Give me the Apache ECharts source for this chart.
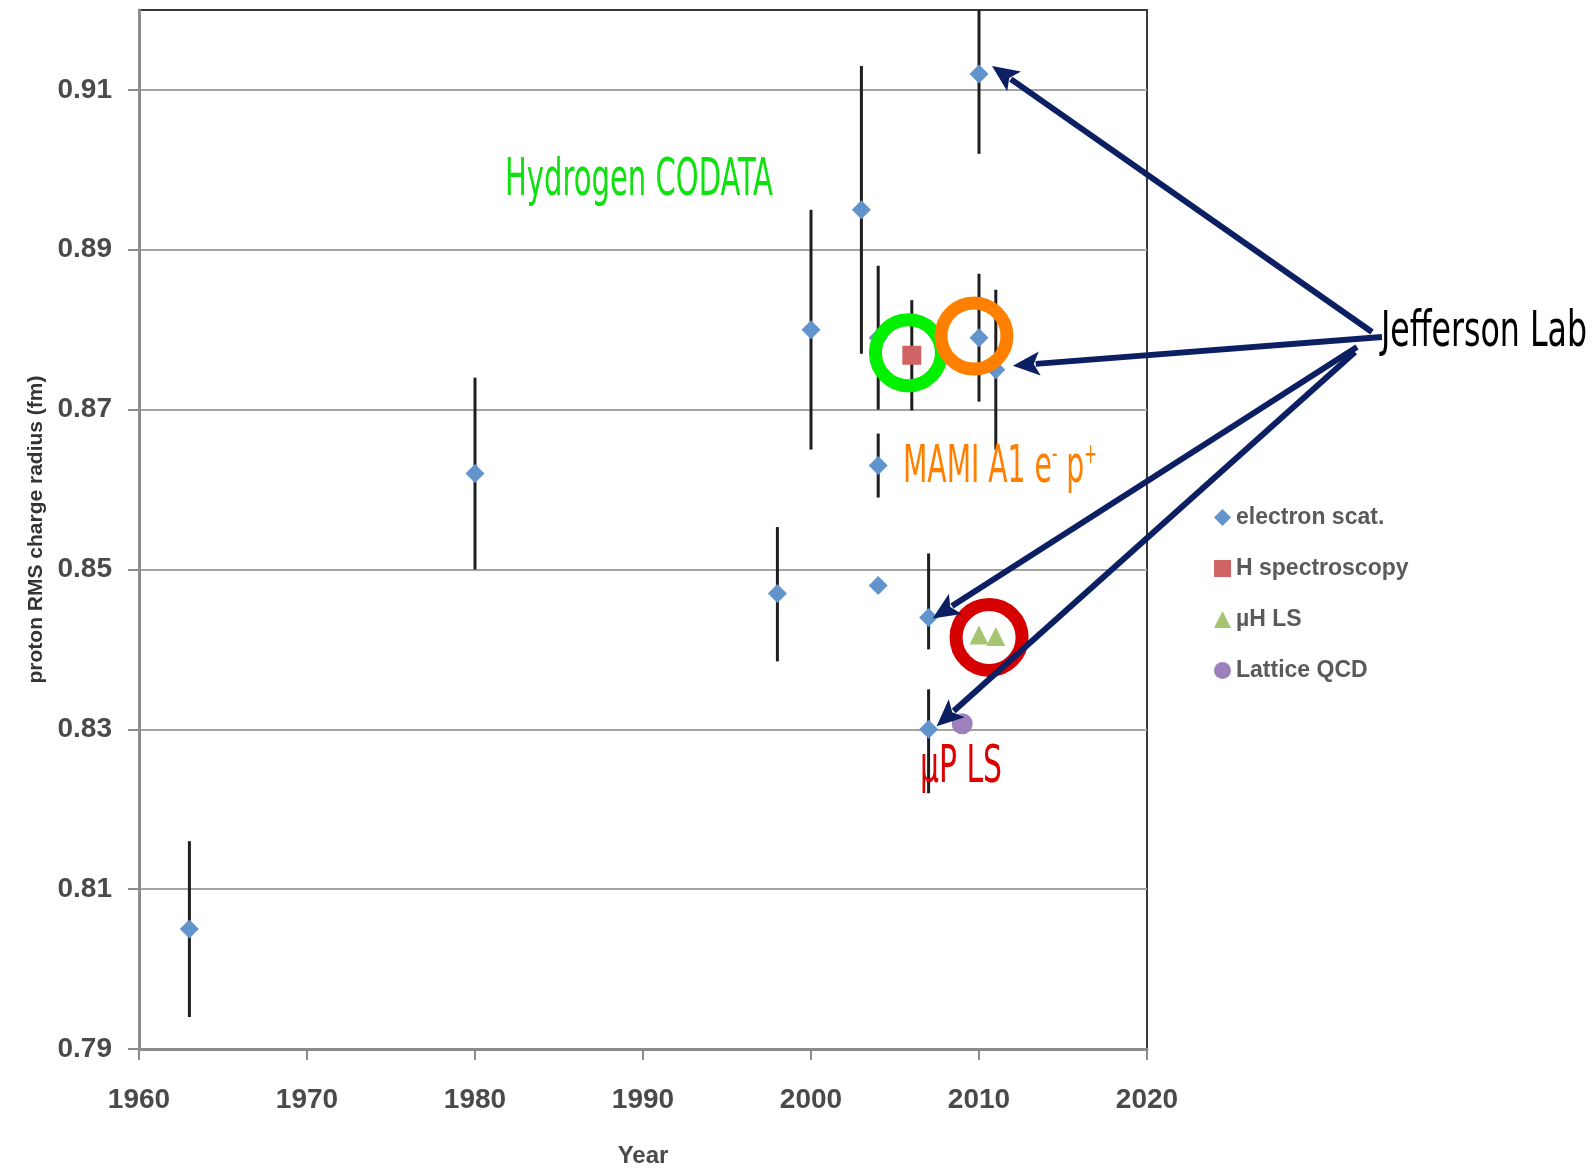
<!DOCTYPE html>
<html><head><meta charset="utf-8">
<script src="https://cdn.jsdelivr.net/npm/echarts@6/dist/echarts.min.js"></script>
<style>html,body{margin:0;padding:0;background:#fff;}#c{width:1595px;height:1170px;}</style>
</head><body><div id="c"></div>
<script>
// ---------- data ----------
const xTicks = [1960, 1970, 1980, 1990, 2000, 2010, 2020];
const yTicks = [0.79, 0.81, 0.83, 0.85, 0.87, 0.89, 0.91];

// electron scattering
const eYears  = [1963, 1980, 1998, 2000, 2003, 2004, 2004, 2004, 2007, 2007, 2010, 2010, 2011];
const eValues = [0.805, 0.862, 0.847, 0.880, 0.895, 0.879, 0.863, 0.848, 0.844, 0.830, 0.912, 0.879, 0.875];
const eLow    = [0.794, 0.850, 0.8385, 0.865, 0.877, 0.870, 0.859, null, 0.840, 0.822, 0.902, 0.871, 0.865];
const eHigh   = [0.816, 0.874, 0.8553, 0.895, 0.913, 0.888, 0.867, null, 0.852, 0.835, 0.922, 0.887, 0.885];

// H spectroscopy (CODATA)
const hYears  = [2006];
const hValues = [0.8768];
const hLow    = [0.8699];
const hHigh   = [0.8837];

// muonic hydrogen Lamb shift
const muYears  = [2010, 2011];
const muValues = [0.8418, 0.8416];

// Lattice QCD
const qYears  = [2009];
const qValues = [0.8307];

// highlight rings (annotation centres)
const ringCenters = [[2005.8, 0.8771], [2009.7, 0.8792], [2010.6, 0.8415]];
const ringColors  = ['#00f000', '#ff7f00', '#d60000'];

// Jefferson Lab arrows: target = electron-scattering index
const jlabIdx = [10, 12, 8, 9];

const FONT = "'Liberation Sans Narrow','DejaVu Sans Condensed','Liberation Sans',sans-serif";
const AX_FONT = "'Liberation Sans',Arial,sans-serif";

// ---------- build ----------
const zip = (a, b) => a.map((v, i) => [v, b[i]]);
const errData = [];
eYears.forEach((y, i) => { if (eLow[i] != null) errData.push([y, eLow[i], eHigh[i]]); });
hYears.forEach((y, i) => errData.push([y, hLow[i], hHigh[i]]));

const chart = echarts.init(document.getElementById('c'), null, {renderer: 'canvas'});

const axisGray = '#8c8c8c';
chart.setOption({
  animation: false,
  backgroundColor: '#fff',
  grid: {left: 139, right: 448, top: 10, bottom: 121, show: true, borderColor: '#3a3a3a', borderWidth: 2,
    containLabel: false, outerBoundsMode: 'none'},
  legend: {
    orient: 'vertical', left: 1209, top: 498, itemWidth: 17, itemHeight: 17, itemGap: 22,
    selectedMode: false,
    data: ['electron scat.', 'H spectroscopy', 'µH LS', 'Lattice QCD'],
    textStyle: {fontSize: 23, fontFamily: AX_FONT, fontWeight: 'bold', color: '#5a5a5a', lineHeight: 29}
  },
  xAxis: {
    type: 'value', min: 1960, max: 2020, interval: 10,
    axisLine: {show: true, onZero: false, lineStyle: {color: axisGray, width: 3}},
    axisTick: {show: true, length: 11, customValues: xTicks, lineStyle: {color: axisGray, width: 2}},
    axisLabel: {customValues: xTicks, margin: 37, color: '#4a4a4a', fontSize: 28, fontFamily: AX_FONT, fontWeight: 'bold',
      formatter: v => String(v)},
    splitLine: {show: false},
    name: 'Year', nameLocation: 'middle', nameGap: 95,
    nameTextStyle: {fontSize: 24, fontFamily: AX_FONT, fontWeight: 'bold', color: '#4a4a4a'}
  },
  yAxis: {
    type: 'value', min: 0.79, max: 0.92,
    axisLine: {show: true, onZero: false, lineStyle: {color: axisGray, width: 3}},
    axisTick: {show: true, length: 11, customValues: yTicks, lineStyle: {color: axisGray, width: 2}},
    axisLabel: {customValues: yTicks, margin: 27, color: '#4a4a4a', fontSize: 28, fontFamily: AX_FONT, fontWeight: 'bold',
      formatter: v => Number(v).toFixed(2)},
    splitLine: {show: true, lineStyle: {color: '#a4a4a4', width: 2}},
    name: 'proton RMS charge radius (fm)', nameLocation: 'middle', nameGap: 84, nameRotate: 90,
    nameTextStyle: {fontSize: 21, fontFamily: AX_FONT, fontWeight: 'bold', color: '#333'}
  },
  series: [
    {
      type: 'custom', name: 'err', silent: true, clip: true, z: 2,
      data: errData,
      encode: {x: 0, y: [1, 2]},
      renderItem: function (params, api) {
        const x = api.value(0);
        const p1 = api.coord([x, api.value(1)]);
        const p2 = api.coord([x, api.value(2)]);
        return {type: 'line', shape: {x1: p1[0], y1: p1[1], x2: p2[0], y2: p2[1]},
          style: {stroke: '#1e1e1e', lineWidth: 3}};
      }
    },
    {type: 'scatter', name: 'electron scat.', symbol: 'diamond', symbolSize: 19, z: 3,
      itemStyle: {color: '#6294cc', opacity: 1}, data: zip(eYears, eValues)},
    {type: 'scatter', name: 'H spectroscopy', symbol: 'rect', symbolSize: 19, z: 3,
      itemStyle: {color: '#d06464', opacity: 1}, data: zip(hYears, hValues)},
    {type: 'scatter', name: 'µH LS', symbol: 'triangle', symbolSize: 19, z: 3,
      itemStyle: {color: '#a5c572', opacity: 1}, data: zip(muYears, muValues)},
    {type: 'scatter', name: 'Lattice QCD', symbol: 'circle', symbolSize: 21, z: 3,
      itemStyle: {color: '#9c81bc', opacity: 1}, data: zip(qYears, qValues)},
    {type: 'scatter', name: 'rings', silent: true, symbol: 'circle', symbolSize: 66, z: 4,
      data: ringCenters.map((c, i) => ({value: c, itemStyle: {color: 'rgba(0,0,0,0)', borderColor: ringColors[i], borderWidth: 13, opacity: 1}}))}
  ]
});

// ---------- annotations ----------
function textWidth(style) {
  const t = new echarts.graphic.Text({style: style});
  return t.getBoundingRect().width;
}
function fitText(text, x0, x1, cy, fontSize, color, weight, rich) {
  const style = {text: text, fontSize: fontSize, fontFamily: FONT, fontWeight: weight || 'normal', fill: color,
    textAlign: 'left', textVerticalAlign: 'middle'};
  if (rich) style.rich = rich;
  const w = textWidth(style);
  return {type: 'text', x: x0, y: cy, scaleX: (x1 - x0) / w, z: 20, style: style};
}
const NAVY = '#0b1f62';
function arrow(sx, sy, tx, ty) {
  const dx = tx - sx, dy = ty - sy, L = Math.hypot(dx, dy), ux = dx / L, uy = dy / L;
  const hl = 27, hw = 12;
  const bx = tx - ux * hl, by = ty - uy * hl;
  return [
    {type: 'line', z: 30, shape: {x1: sx, y1: sy, x2: bx + ux * 4, y2: by + uy * 4}, style: {stroke: NAVY, lineWidth: 6}},
    {type: 'polygon', z: 30, shape: {points: [[tx, ty], [bx - uy * hw, by + ux * hw], [bx + ux * 6, by + uy * 6], [bx + uy * hw, by - ux * hw]]}, style: {fill: NAVY}}
  ];
}
const starts = [[1372, 332], [1382, 337], [1357, 347], [1355, 352]];
const tipOffsets = [[13, -8], [17, -4], [4, 1], [8, -3]];
const graphics = [];
jlabIdx.forEach((idx, k) => {
  const p = chart.convertToPixel({gridIndex: 0}, [eYears[idx], eValues[idx]]);
  graphics.push(...arrow(starts[k][0], starts[k][1], p[0] + tipOffsets[k][0], p[1] + tipOffsets[k][1]));
});
graphics.push(fitText('Hydrogen CODATA', 505, 773, 181, 52, '#10e010'));
graphics.push(fitText('MAMI A1 e{s|-} p{s|+}', 903, 1097, 468, 52, '#ff8000', 'normal',
  {s: {fontSize: 28, fontFamily: FONT, fill: '#ff8000', verticalAlign: 'top'}}));
graphics.push(fitText('µP LS', 920, 1002, 768, 52, '#dd0000'));
graphics.push(fitText('Jefferson Lab', 1381, 1587, 333, 50, '#000000'));
chart.setOption({graphic: graphics});
</script>
</body></html>
